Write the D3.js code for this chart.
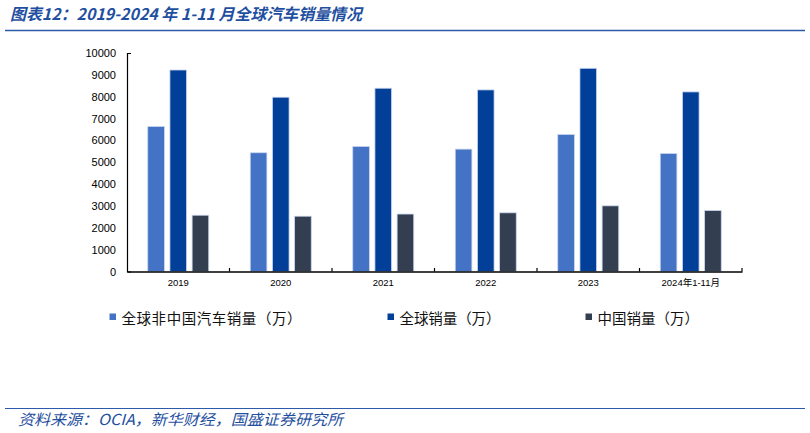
<!DOCTYPE html>
<html><head><meta charset="utf-8">
<script src="https://cdn.jsdelivr.net/npm/d3@7"></script>
<style>
html,body{margin:0;padding:0;background:#fff;}
svg{display:block;}
</style></head>
<body>
<svg id="c" width="810" height="433"></svg>
<script>
const categories = ["2019","2020","2021","2022","2023","2024年1-11月"];
const seriesNames = ["全球非中国汽车销量（万）","全球销量（万）","中国销量（万）"];
const nonChina = [6635, 5434, 5722, 5601, 6271, 5403];
const globalSales = [9222, 7977, 8388, 8311, 9300, 8219];
const china = [2576, 2531, 2630, 2686, 3005, 2790];
const yTicks = [0,1000,2000,3000,4000,5000,6000,7000,8000,9000,10000];
const colors = ["#4472C4","#023F99","#333F50"];

(function(){
const svg = d3.select("#c");
const blue = "#1F4FA0";

// title
svg.append("text").attr("x",10).attr("y",20)
  .attr("font-family","'Noto Sans CJK SC', sans-serif")
  .attr("font-size",16).attr("font-style","italic").attr("font-weight","bold")
  .attr("fill",blue).attr("textLength",352).attr("lengthAdjust","spacingAndGlyphs")
  .text("图表12：2019-2024 年 1-11 月全球汽车销量情况");
svg.append("line").attr("x1",5).attr("x2",805).attr("y1",30.5).attr("y2",30.5)
  .attr("stroke","#2E5AAC").attr("stroke-width",1.3);

const pLeft = 127, pRight = 742, pTop = 53, pBottom = 271.5;
const x = d3.scaleBand().domain(categories).range([pLeft,pRight]).padding(0);
const y = d3.scaleLinear().domain([0,10000]).range([pBottom,pTop]);
const series = [nonChina, globalSales, china];
const groupW = 61;
const inner = d3.scaleBand().domain([0,1,2]).range([0,groupW]).paddingInner(0.25);
const groupOffset = (x.bandwidth()-groupW)/2;

const g = svg.append("g");
series.forEach((vals,si)=>{
  g.selectAll(null).data(vals).enter().append("rect")
    .attr("x",(d,i)=>x(categories[i])+groupOffset+inner(si))
    .attr("width",inner.bandwidth())
    .attr("y",d=>y(d))
    .attr("height",d=>pBottom-y(d))
    .attr("fill",colors[si])
    .attr("stroke","#C9D6EE").attr("stroke-width",0.8);
});

// y axis
const ya = svg.append("g").attr("transform",`translate(${pLeft},0)`)
  .call(d3.axisLeft(y).tickValues(yTicks).tickSizeInner(0).tickSizeOuter(-4).tickPadding(11).tickFormat(d3.format("d")));
ya.select(".domain").attr("stroke","#000").attr("stroke-width",1.2);
ya.selectAll("text").attr("font-family","'Liberation Sans', Arial, sans-serif").attr("font-size",11).attr("fill","#000");

// x axis
const xa = svg.append("g").attr("transform",`translate(0,${pBottom})`)
  .call(d3.axisBottom(x).tickSize(0).tickPadding(8));
xa.select(".domain").attr("stroke","#000").attr("stroke-width",1.5);
xa.selectAll("text").attr("font-family","'Liberation Sans','Noto Sans CJK SC', sans-serif").attr("font-size",9.5).attr("fill","#000");
// boundary ticks
const bounds = categories.map(c=>x(c)).concat([pRight]);
svg.append("g").selectAll("line").data(bounds.slice(1)).enter().append("line")
  .attr("x1",d=>d).attr("x2",d=>d).attr("y1",pBottom).attr("y2",pBottom-3.5)
  .attr("stroke","#000").attr("stroke-width",1.2);

// legend
const legX = [109.5,387.5,585.5];
const legW = [180,101,101.5];
const lg = svg.append("g");
seriesNames.forEach((n,i)=>{
  lg.append("rect").attr("x",legX[i]).attr("y",313.5).attr("width",6.5).attr("height",6.5).attr("fill",colors[i]);
  lg.append("text").attr("x",legX[i]+12).attr("y",323.5)
    .attr("font-family","'Noto Sans CJK SC', sans-serif").attr("font-size",14.5)
    .attr("textLength",legW[i]).attr("lengthAdjust","spacing")
    .attr("fill","#111").text(n);
});

// footer
svg.append("line").attr("x1",5).attr("x2",805).attr("y1",408.5).attr("y2",408.5)
  .attr("stroke","#2E5AAC").attr("stroke-width",1.2);
svg.append("text").attr("x",18).attr("y",425)
  .attr("font-family","'Noto Sans CJK SC', sans-serif").attr("font-size",15)
  .attr("textLength",325).attr("lengthAdjust","spacingAndGlyphs")
  .attr("font-style","italic").attr("fill",blue).text("资料来源：OCIA，新华财经，国盛证券研究所");
})();
</script>
</body></html>
